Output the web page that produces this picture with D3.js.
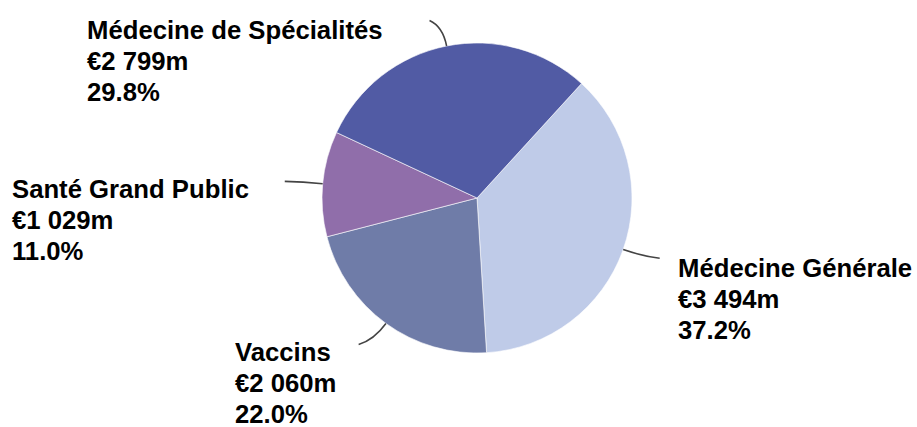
<!DOCTYPE html>
<html>
<head>
<meta charset="utf-8">
<script src="https://cdn.jsdelivr.net/npm/d3@7"></script>
<style>
  body { margin: 0; background: #fff; }
  svg { display: block; }
  text { font-family: "Liberation Sans", Arial, sans-serif; font-weight: bold; font-size: 25.7px; fill: #000; }
</style>
</head>
<body>
<svg></svg>
<script>
const width = 917;
const height = 427;

// données
const categories = ["Médecine Générale", "Vaccins", "Santé Grand Public", "Médecine de Spécialités"];
const values = [3494, 2060, 1029, 2799]; // en millions d'euros
const colors = ["#bfcbe8", "#6f7ca8", "#906eaa", "#515ba4"];

// position des étiquettes (coin gauche, ligne de base de la 1re ligne)
const labelPos = [[678, 277], [235, 361], [12, 198], [87, 39]];
const lineSide = [1, -1, -1, -1];

const cx = 477, cy = 198, radius = 155;
const lineH = 31;

const svg = d3.select("svg")
    .attr("width", width)
    .attr("height", height);

const locale = d3.formatLocale({ decimal: ".", thousands: " ", grouping: [3], currency: ["€", ""] });
const fmtNum = locale.format(",");
const fmtPct = d3.format(".1%");
const total = d3.sum(values);

const startA = 0.74;
const pie = d3.pie()
    .sort(null)
    .startAngle(startA)
    .endAngle(startA + 2 * Math.PI);

const arcs = pie(values);

const arc = d3.arc().innerRadius(0).outerRadius(radius);

const g = svg.append("g").attr("transform", `translate(${cx}, ${cy})`);

// secteurs
g.selectAll("path.slice")
    .data(arcs)
    .enter()
    .append("path")
    .attr("class", "slice")
    .attr("d", arc)
    .attr("fill", (d, i) => colors[i])
    .attr("stroke", "#ffffff")
    .attr("stroke-width", 0.6);

// point sur un rayon donné pour un angle (0 = midi, sens horaire)
function polar(a, r) {
    return [Math.sin(a) * r, -Math.cos(a) * r];
}

// traits de rappel
g.selectAll("path.leader")
    .data(arcs)
    .enter()
    .append("path")
    .attr("class", "leader")
    .attr("d", (d, i) => {
        const a = (d.startAngle + d.endAngle) / 2;
        const p0 = polar(a, radius);
        const p1 = polar(a, radius + 20);
        const p2 = polar(a, radius + 26);
        const p = d3.path();
        p.moveTo(p0[0], p0[1]);
        p.quadraticCurveTo(p1[0], p1[1], p2[0] + 12 * lineSide[i], p2[1]);
        return p.toString();
    })
    .attr("fill", "none")
    .attr("stroke", "#444")
    .attr("stroke-width", 1.6);

// étiquettes
const labels = svg.selectAll("text.label")
    .data(arcs)
    .enter()
    .append("text")
    .attr("class", "label")
    .attr("x", (d, i) => labelPos[i][0])
    .attr("y", (d, i) => labelPos[i][1]);

labels.each(function (d, i) {
    const t = d3.select(this);
    const lines = [categories[i], "€" + fmtNum(d.data) + "m", fmtPct(d.data / total)];
    lines.forEach((s, k) => {
        t.append("tspan")
            .attr("x", labelPos[i][0])
            .attr("y", labelPos[i][1] + k * lineH)
            .text(s);
    });
});
</script>
</body>
</html>
